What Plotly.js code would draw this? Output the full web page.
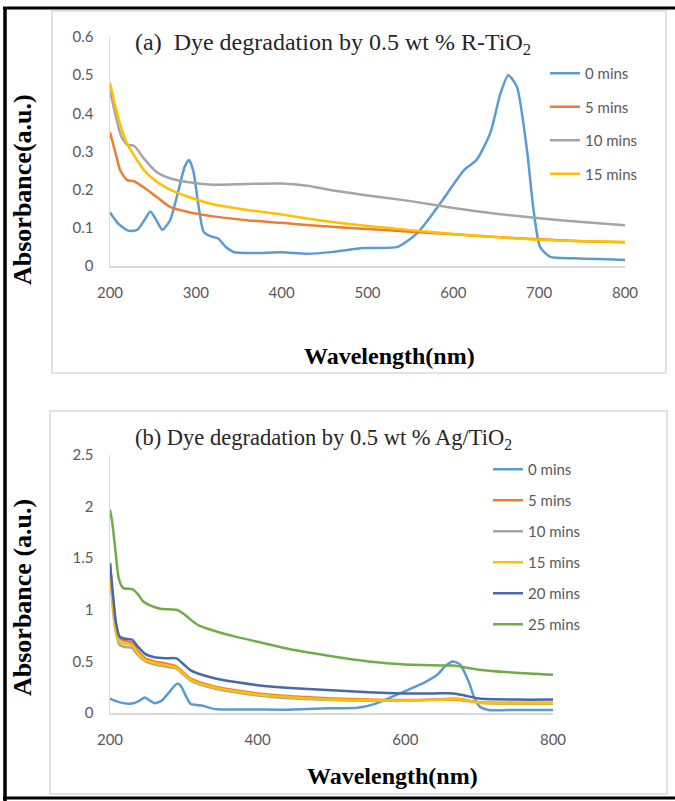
<!DOCTYPE html>
<html>
<head>
<meta charset="utf-8">
<script src="https://cdn.plot.ly/plotly-3.0.1.min.js"></script>
<style>
html,body{margin:0;padding:0;background:#fff;}
#chart{width:675px;height:801px;}
</style>
</head>
<body>
<div id="chart"></div>
<script>
// ---------- Panel (a): 0.5 wt % R-TiO2 ----------
const seriesNamesA = ["0 mins", "5 mins", "10 mins", "15 mins"];
const a_x0 = [200, 210, 222, 232, 240, 247, 254, 261, 270, 280, 287, 292, 297, 303, 309, 317, 326, 335, 345, 370, 400, 430, 460, 495, 535, 558, 585, 612, 627, 643, 655, 664, 674, 686, 693, 701, 713, 740, 800];
const a_y0 = [0.14, 0.11, 0.092, 0.095, 0.12, 0.143, 0.12, 0.095, 0.12, 0.2, 0.26, 0.278, 0.25, 0.16, 0.09, 0.078, 0.072, 0.05, 0.036, 0.034, 0.036, 0.032, 0.037, 0.047, 0.05, 0.086, 0.165, 0.25, 0.278, 0.348, 0.453, 0.5, 0.47, 0.3, 0.155, 0.05, 0.024, 0.02, 0.016];
const a_x5 = [200, 206, 212, 220, 228, 240, 255, 270, 290, 320, 360, 400, 450, 500, 550, 600, 650, 700, 750, 800];
const a_y5 = [0.35, 0.3, 0.25, 0.225, 0.222, 0.205, 0.18, 0.155, 0.142, 0.13, 0.12, 0.113, 0.104, 0.097, 0.09, 0.083, 0.076, 0.07, 0.065, 0.062];
const a_x10 = [200, 206, 213, 220, 228, 240, 255, 270, 290, 320, 360, 400, 430, 460, 500, 550, 600, 650, 700, 750, 800];
const a_y10 = [0.46, 0.4, 0.34, 0.318, 0.315, 0.28, 0.245, 0.23, 0.22, 0.213, 0.215, 0.216, 0.21, 0.198, 0.185, 0.17, 0.152, 0.137, 0.125, 0.115, 0.107];
const a_x15 = [200, 205, 212, 220, 228, 240, 255, 270, 290, 320, 360, 400, 450, 500, 550, 600, 650, 700, 750, 800];
const a_y15 = [0.48, 0.43, 0.37, 0.32, 0.29, 0.25, 0.22, 0.2, 0.182, 0.162, 0.147, 0.135, 0.118, 0.105, 0.094, 0.084, 0.076, 0.069, 0.065, 0.063];

// ---------- Panel (b): 0.5 wt % Ag/TiO2 ----------
const seriesNamesB = ["0 mins", "5 mins", "10 mins", "15 mins", "20 mins", "25 mins"];
const b_x0 = [200, 210, 222, 232, 240, 247, 254, 261, 270, 280, 287, 292, 297, 303, 309, 317, 326, 335, 345, 370, 400, 430, 460, 495, 535, 558, 585, 612, 627, 643, 655, 664, 674, 686, 693, 701, 713, 740, 800];
const b_y0 = [0.14, 0.11, 0.092, 0.095, 0.12, 0.15, 0.12, 0.095, 0.12, 0.2, 0.26, 0.285, 0.25, 0.16, 0.09, 0.078, 0.07, 0.05, 0.036, 0.034, 0.034, 0.032, 0.037, 0.045, 0.05, 0.086, 0.165, 0.25, 0.3, 0.37, 0.46, 0.5, 0.47, 0.3, 0.155, 0.06, 0.03, 0.028, 0.028];
const b_xs = [200, 204, 208, 213, 220, 230, 238, 248, 260, 275, 290, 300, 310, 320, 340, 370, 400, 450, 500, 550, 600, 640, 665, 680, 700, 750, 800];
const b_y5 = [1.45, 1.1, 0.85, 0.72, 0.7, 0.68, 0.6, 0.53, 0.5, 0.48, 0.45, 0.39, 0.33, 0.3, 0.26, 0.22, 0.19, 0.16, 0.14, 0.13, 0.125, 0.13, 0.13, 0.12, 0.105, 0.1, 0.1];
const b_y10 = [1.4, 1.0, 0.78, 0.66, 0.64, 0.63, 0.56, 0.5, 0.47, 0.45, 0.43, 0.37, 0.31, 0.28, 0.24, 0.2, 0.17, 0.14, 0.125, 0.12, 0.12, 0.13, 0.14, 0.13, 0.1, 0.09, 0.09];
const b_y15 = [1.43, 1.05, 0.8, 0.69, 0.67, 0.655, 0.58, 0.51, 0.485, 0.465, 0.44, 0.38, 0.32, 0.29, 0.25, 0.21, 0.18, 0.15, 0.13, 0.125, 0.12, 0.125, 0.135, 0.125, 0.1, 0.095, 0.095];
const b_y20 = [1.45, 1.15, 0.88, 0.74, 0.72, 0.71, 0.64, 0.57, 0.54, 0.53, 0.53, 0.47, 0.41, 0.38, 0.34, 0.3, 0.27, 0.24, 0.22, 0.2, 0.19, 0.19, 0.19, 0.17, 0.14, 0.13, 0.13];
const b_x25 = [200, 203, 207, 212, 218, 230, 238, 245, 255, 268, 290, 300, 310, 320, 340, 370, 400, 450, 500, 550, 600, 650, 665, 700, 750, 800];
const b_y25 = [1.97, 1.85, 1.6, 1.3, 1.21, 1.2, 1.15, 1.08, 1.04, 1.01, 1.0, 0.96, 0.9, 0.85, 0.8, 0.74, 0.69, 0.61, 0.55, 0.5, 0.47, 0.46, 0.46, 0.42, 0.39, 0.37];

// tick labels
const a_yticks = [0, 0.1, 0.2, 0.3, 0.4, 0.5, 0.6];
const a_xticks = [200, 300, 400, 500, 600, 700, 800];
const b_yticks = [0, 0.5, 1, 1.5, 2, 2.5];
const b_xticks = [200, 400, 600, 800];

const colors = ["#5B9BD5", "#ED7D31", "#A5A5A5", "#FFC000", "#4868A8", "#70AD47"];

// ---------- geometry helpers (pixel -> paper) ----------
const W = 675, H = 801;
const px = x => x / W;
const py = y => 1 - y / H;

function tr(x, y, name, color, xa, ya, leg, grp) {
  return {
    x: x, y: y, name: name, type: "scatter", mode: "lines",
    line: {color: color, width: 2.5, shape: "spline", smoothing: 0.6},
    xaxis: xa, yaxis: ya, legend: leg, legendgroup: grp, hoverinfo: "skip"
  };
}

const data = [
  tr(a_x0, a_y0, seriesNamesA[0], colors[0], "x", "y", "legend", "a0"),
  tr(a_x5, a_y5, seriesNamesA[1], colors[1], "x", "y", "legend", "a1"),
  tr(a_x10, a_y10, seriesNamesA[2], colors[2], "x", "y", "legend", "a2"),
  tr(a_x15, a_y15, seriesNamesA[3], colors[3], "x", "y", "legend", "a3"),
  tr(b_x0, b_y0, seriesNamesB[0], colors[0], "x2", "y2", "legend2", "b0"),
  tr(b_xs, b_y5, seriesNamesB[1], colors[1], "x2", "y2", "legend2", "b1"),
  tr(b_xs, b_y10, seriesNamesB[2], colors[2], "x2", "y2", "legend2", "b2"),
  tr(b_xs, b_y15, seriesNamesB[3], colors[3], "x2", "y2", "legend2", "b3"),
  tr(b_xs, b_y20, seriesNamesB[4], colors[4], "x2", "y2", "legend2", "b4"),
  tr(b_x25, b_y25, seriesNamesB[5], colors[5], "x2", "y2", "legend2", "b5")
];

const tickFont = {family: "Lato, 'Open Sans', sans-serif", size: 15, color: "#595959"};
const serif = "'Liberation Serif', 'Times New Roman', serif";

function xaxisDef(ticks, domain, anchor) {
  return {
    domain: domain, anchor: anchor, range: [200, 800], tickvals: ticks, ticktext: ticks.map(String),
    showgrid: false, zeroline: false, showline: true, linecolor: "#D9D9D9", linewidth: 1.5,
    ticks: "outside", ticklen: 12, tickcolor: "rgba(0,0,0,0)", tickfont: tickFont, fixedrange: true
  };
}
function yaxisDef(ticks, range, domain, anchor) {
  return {
    domain: domain, anchor: anchor, range: range, tickvals: ticks, ticktext: ticks.map(String),
    showgrid: false, zeroline: false, showline: true, linecolor: "#D9D9D9", linewidth: 1.5,
    ticks: "outside", ticklen: 12, tickcolor: "rgba(0,0,0,0)", tickfont: tickFont, fixedrange: true
  };
}

const layout = {
  width: W, height: H,
  margin: {l: 0, r: 0, t: 0, b: 0},
  paper_bgcolor: "#ffffff", plot_bgcolor: "rgba(0,0,0,0)",
  showlegend: true,
  xaxis: xaxisDef(a_xticks, [px(110), px(625)], "y"),
  yaxis: yaxisDef(a_yticks, [0, 0.6], [py(266), py(37)], "x"),
  xaxis2: xaxisDef(b_xticks, [px(110), px(553)], "y2"),
  yaxis2: yaxisDef(b_yticks, [0, 2.5], [py(713), py(455)], "x2"),
  legend: {
    x: px(545), y: py(57), xanchor: "left", yanchor: "top",
    bgcolor: "rgba(0,0,0,0)", font: {family: "Lato, sans-serif", size: 15, color: "#595959"},
    traceorder: "grouped", tracegroupgap: 11, itemwidth: 30
  },
  legend2: {
    x: px(488), y: py(453), xanchor: "left", yanchor: "top",
    bgcolor: "rgba(0,0,0,0)", font: {family: "Lato, sans-serif", size: 15, color: "#595959"},
    traceorder: "grouped", tracegroupgap: 8.5, itemwidth: 30
  },
  shapes: [
    // panel borders
    {type: "rect", xref: "paper", yref: "paper", x0: px(52), x1: px(666), y0: py(373), y1: py(11), line: {color: "#D9D9D9", width: 1.5}, layer: "below"},
    {type: "rect", xref: "paper", yref: "paper", x0: px(50), x1: px(667), y0: py(794), y1: py(411), line: {color: "#D9D9D9", width: 1.5}, layer: "below"},
    // outer black frame
    {type: "line", xref: "paper", yref: "paper", x0: px(3), x1: px(675), y0: py(8), y1: py(8), line: {color: "#000", width: 3}},
    {type: "line", xref: "paper", yref: "paper", x0: px(5), x1: px(5), y0: py(7), y1: py(801), line: {color: "#000", width: 3.5}},
    {type: "line", xref: "paper", yref: "paper", x0: px(3), x1: px(675), y0: py(798), y1: py(798), line: {color: "#000", width: 3}}
  ],
  annotations: [
    {text: "(a)  Dye degradation by 0.5 wt % R-TiO<sub>2</sub>", xref: "paper", yref: "paper", x: px(133), y: py(44), xanchor: "left", yanchor: "middle", showarrow: false, font: {family: serif, size: 24, color: "#262626"}},
    {text: "(b) Dye degradation by 0.5 wt % Ag/TiO<sub>2</sub>", xref: "paper", yref: "paper", x: px(133), y: py(439), xanchor: "left", yanchor: "middle", showarrow: false, font: {family: serif, size: 22.5, color: "#262626"}},
    {text: "<b>Wavelength(nm)</b>", xref: "paper", yref: "paper", x: px(390), y: py(356), xanchor: "center", yanchor: "middle", showarrow: false, font: {family: serif, size: 24, color: "#000"}},
    {text: "<b>Wavelength(nm)</b>", xref: "paper", yref: "paper", x: px(392), y: py(776), xanchor: "center", yanchor: "middle", showarrow: false, font: {family: serif, size: 24, color: "#000"}},
    {text: "<b>Absorbance(a.u.)</b>", xref: "paper", yref: "paper", x: px(22), y: py(190), xanchor: "center", yanchor: "middle", textangle: -90, showarrow: false, font: {family: serif, size: 26, color: "#000"}},
    {text: "<b>Absorbance (a.u.)</b>", xref: "paper", yref: "paper", x: px(22), y: py(598), xanchor: "center", yanchor: "middle", textangle: -90, showarrow: false, font: {family: serif, size: 26, color: "#000"}}
  ]
};

Plotly.newPlot("chart", data, layout, {staticPlot: true, displayModeBar: false});
</script>
</body>
</html>
